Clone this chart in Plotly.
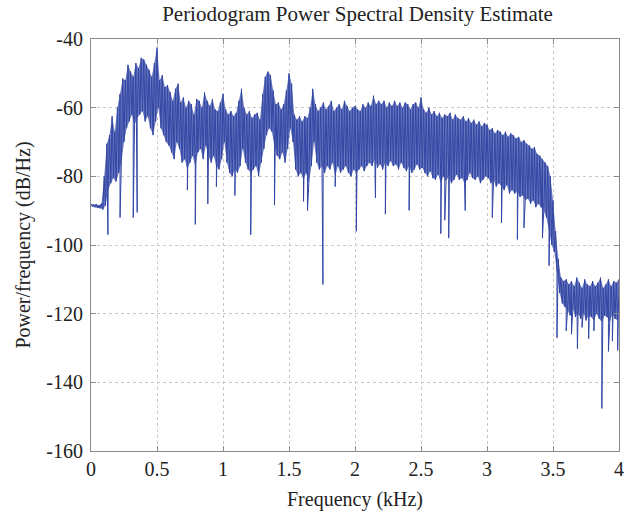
import plotly.graph_objects as go

# Frequency grid (kHz), step 0.02
freq_khz = [round(0.02 * i, 2) for i in range(201)]

# Upper edge of the dense periodogram band (dB/Hz)
upper_db = [
    -88.0, -88.2, -88.1, -88.4, -87.9,
    -80.0, -70.5, -68.0, -62.5, -67.0,
    -60.0, -56.0, -51.5, -52.0, -47.5,
    -49.5, -51.0, -47.0, -48.5, -45.5,
    -46.0, -47.5, -49.0, -51.0, -47.0,
    -42.5, -52.0, -50.5, -54.0, -53.5,
    -55.5, -58.0, -54.5, -53.0, -58.5,
    -57.0, -60.0, -58.0, -59.0, -62.0,
    -57.5, -58.0, -60.0, -55.5, -58.0,
    -59.5, -57.5, -60.5, -61.0, -58.5,
    -56.0, -60.5, -62.0, -61.0, -62.5,
    -61.5, -58.0, -54.5, -60.0, -62.0,
    -61.0, -63.0, -62.0, -61.5, -63.5,
    -56.0, -51.0, -49.5, -50.5, -55.0,
    -59.0, -58.5, -60.5, -59.0, -55.0,
    -50.0, -53.0, -62.0, -63.5, -62.5,
    -64.0, -62.5, -63.0, -60.0, -54.5,
    -59.0, -61.0, -60.0, -58.5, -60.5,
    -59.5, -58.0, -61.0, -60.0, -59.0,
    -60.5, -58.0, -59.5, -61.0, -60.0,
    -59.5, -60.5, -61.0, -59.0, -60.0,
    -58.5, -59.5, -56.5, -59.0, -58.0,
    -59.0, -58.0, -60.0, -58.5, -59.5,
    -58.0, -59.5, -58.5, -60.0, -58.5,
    -59.0, -60.5, -59.0, -58.5, -60.0,
    -57.0, -60.5, -61.5, -60.0, -62.0,
    -61.0, -62.5, -61.5, -63.0, -62.0,
    -62.5, -61.5, -63.5, -62.0, -63.0,
    -63.5, -62.5, -64.0, -63.0, -64.5,
    -63.5, -65.0, -64.0, -65.5, -64.5,
    -65.0, -66.5, -66.0, -67.5, -66.5,
    -67.0, -68.0, -67.0, -68.5, -67.5,
    -68.0, -69.0, -68.5, -70.0, -69.5,
    -70.5, -71.0, -72.0, -71.5, -73.5,
    -74.0, -75.0, -76.0, -77.0, -80.0,
    -87.0, -96.0, -104.0, -109.5, -110.5,
    -110.0, -111.5, -110.5, -112.0, -109.5,
    -111.0, -112.5, -110.0, -111.5, -112.0,
    -110.5, -112.0, -111.0, -109.5, -112.5,
    -111.5, -110.0, -112.0, -110.5, -111.0,
    -110.0,
]

# Lower edge of the dense band (dB/Hz)
lower_db = [
    -88.8, -89.0, -89.2, -89.3, -89.6,
    -88.5, -84.0, -82.0, -80.5, -81.5,
    -79.0, -76.0, -70.0, -66.0, -64.0,
    -62.0, -65.0, -63.0, -62.0, -61.0,
    -64.0, -62.5, -66.0, -68.0, -64.0,
    -60.0, -66.0, -68.0, -70.0, -71.0,
    -73.0, -75.0, -70.0, -72.0, -76.0,
    -75.0, -78.0, -76.0, -74.0, -77.0,
    -73.0, -72.0, -75.0, -71.0, -74.0,
    -76.0, -74.0, -77.0, -78.0, -75.0,
    -70.0, -76.0, -79.0, -80.0, -78.0,
    -79.0, -77.0, -72.0, -76.0, -78.0,
    -79.0, -78.0, -77.0, -80.0, -76.0,
    -72.0, -68.0, -66.0, -67.0, -71.0,
    -74.0, -75.0, -73.0, -76.0, -72.0,
    -66.0, -70.0, -78.0, -80.0, -79.0,
    -81.0, -79.0, -82.0, -77.0, -70.0,
    -76.0, -78.0, -77.0, -79.0, -77.0,
    -78.0, -76.0, -80.0, -77.0, -79.0,
    -78.0, -77.0, -79.0, -80.0, -78.0,
    -79.0, -78.0, -77.0, -78.5, -77.0,
    -76.0, -77.0, -75.0, -77.5, -76.5,
    -78.0, -76.0, -77.0, -75.5, -77.0,
    -76.5, -78.0, -76.0, -77.5, -78.5,
    -77.0, -79.0, -78.0, -76.5, -78.0,
    -77.5, -79.0, -80.0, -78.5, -80.5,
    -81.0, -79.5, -82.0, -80.0, -81.5,
    -80.0, -82.0, -81.0, -79.5, -81.0,
    -80.5, -82.0, -81.0, -79.0, -80.5,
    -81.0, -80.0, -82.0, -81.0, -80.0,
    -80.5, -82.0, -81.0, -83.0, -82.0,
    -83.0, -84.0, -82.5, -85.0, -84.0,
    -85.0, -84.5, -86.0, -85.5, -87.0,
    -86.5, -88.0, -87.0, -89.0, -88.0,
    -89.0, -90.0, -92.0, -96.0, -100.0,
    -102.0, -108.0, -114.0, -117.0, -118.0,
    -119.0, -120.5, -118.5, -121.0, -120.0,
    -121.5, -119.5, -122.0, -120.5, -121.0,
    -122.0, -120.0, -121.5, -122.5, -120.5,
    -121.0, -122.5, -120.0, -121.5, -122.0,
    -121.0,
]

# Isolated deep dips (frequency kHz, dB/Hz)
dip_freq = [0.09, 0.128, 0.22, 0.32, 0.35, 0.73, 0.79, 0.885, 0.95,
            1.09, 1.21, 1.39, 1.61, 1.64, 1.757, 1.85, 2.01,
            2.155, 2.23, 2.41, 2.65, 2.68, 2.71, 2.835, 3.04,
            3.11, 3.23, 3.28, 3.42, 3.47, 3.53, 3.60, 3.64, 3.685,
            3.72, 3.77, 3.81, 3.87, 3.92, 3.95, 3.99]
dip_db = [-89.7, -97.0, -92.0, -92.0, -90.5, -84.0, -94.0, -88.0, -83.0,
          -85.6, -97.0, -88.4, -87.3, -90.0, -111.5, -83.0, -96.0,
          -86.3, -91.0, -89.9, -96.7, -92.8, -98.0, -90.0, -92.0,
          -93.6, -98.4, -95.0, -98.0, -106.0, -127.0, -125.0, -126.0, -130.2,
          -124.0, -127.3, -125.0, -147.6, -131.0, -128.0, -130.7]

pts = []
for i, f in enumerate(freq_khz):
    pts.append((f, upper_db[i]))
    if i < len(freq_khz) - 1:
        pts.append((f + 0.01, lower_db[i]))
for f, v in zip(dip_freq, dip_db):
    pts.append((f, v))
pts.sort(key=lambda p: p[0])
xs = [p[0] for p in pts]
ys = [p[1] for p in pts]

# band: upper edges at f, lower edges at f+0.01
band_x_low = [round(f + 0.01, 2) for f in freq_khz[:-1]]

BLUE = "rgb(50,70,165)"
FONT = "Liberation Serif"
fig = go.Figure()
fig.add_trace(go.Scatter(x=freq_khz + band_x_low[::-1],
                         y=upper_db + lower_db[:-1][::-1],
                         mode="none", fill="toself",
                         fillcolor="rgba(50,70,165,0.72)",
                         showlegend=False, hoverinfo="skip"))
fig.add_trace(go.Scatter(x=xs, y=ys, mode="lines",
                         line=dict(color=BLUE, width=1.0, simplify=False),
                         showlegend=False, hoverinfo="skip"))

xt = [0, 0.5, 1, 1.5, 2, 2.5, 3, 3.5, 4]
yt = [-160, -140, -120, -100, -80, -60, -40]
fig.update_layout(
    width=633, height=515,
    margin=dict(l=91, r=9, t=39, b=52),
    paper_bgcolor="white", plot_bgcolor="white",
    font=dict(family=FONT, size=20, color="#222"),
    title=dict(text="Periodogram Power Spectral Density Estimate",
               x=(91 + 624) / 2 / 633, xanchor="center",
               y=1 - 14 / 515, yanchor="middle",
               font=dict(family=FONT, size=21, color="#222")),
)
fig.update_xaxes(range=[0, 4], tickvals=xt, ticktext=[str(v) for v in xt],
                 showline=True, linecolor="#8a8a8a", linewidth=1, mirror="ticks",
                 ticks="inside", ticklen=5, tickcolor="#8a8a8a",
                 showgrid=True, gridcolor="#c8c8c8", griddash="dot", gridwidth=1,
                 zeroline=False,
                 title=dict(text="Frequency (kHz)", standoff=12,
                            font=dict(family=FONT, size=20)))
fig.update_yaxes(range=[-160, -40], tickvals=yt, ticktext=[str(v) for v in yt],
                 showline=True, linecolor="#8a8a8a", linewidth=1, mirror="ticks",
                 ticks="inside", ticklen=5, tickcolor="#8a8a8a",
                 ticklabelstandoff=3,
                 showgrid=True, gridcolor="#c8c8c8", griddash="dot", gridwidth=1,
                 zeroline=False,
                 title=dict(text="Power/frequency (dB/Hz)", standoff=10,
                            font=dict(family=FONT, size=20)))
fig.write_html("out.html")
